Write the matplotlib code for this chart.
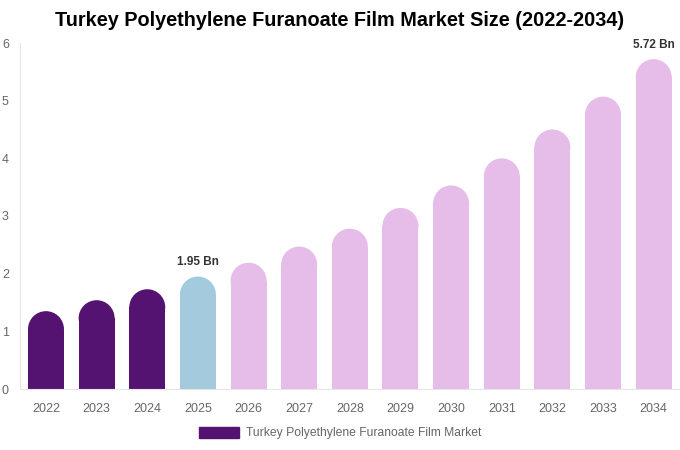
import matplotlib.pyplot as plt
from matplotlib.patches import Ellipse, Patch

plt.rcParams['font.family'] = ['Liberation Sans', 'DejaVu Sans']

years = ['2022', '2023', '2024', '2025', '2026', '2027', '2028',
         '2029', '2030', '2031', '2032', '2033', '2034']
values = [1.35, 1.54, 1.73, 1.95, 2.19, 2.47, 2.78, 3.14, 3.53, 4.0, 4.5, 5.07, 5.72]
colors = ['#541271'] * 3 + ['#a4cade'] + ['#e6bce8'] * 9
labels = {3: '1.95 Bn', 12: '5.72 Bn'}

fig = plt.figure(figsize=(6.8, 4.5), dpi=100)
ax = fig.add_axes([20 / 680, 61 / 450, 659 / 680, 346 / 450])
ax.set_xlim(-0.513, 12.5)
ax.set_ylim(0, 6)

w = 0.71
# vertical radius of the rounded top, in data units (18 px at 57.7 px per unit)
ry = 18 / 57.7
for i, v in enumerate(values):
    ax.bar(i, v - ry, width=w, color=colors[i], linewidth=0)
    ax.add_patch(Ellipse((i, v - ry), w, 2 * ry, color=colors[i], linewidth=0))
    if i in labels:
        ax.text(i, v + 0.14, labels[i], ha='center', va='bottom',
                fontsize=8.5, fontweight='bold', color='#333333')

ax.set_xticks(range(len(years)))
ax.set_xticklabels(years)
ax.set_yticks(range(7))
ax.tick_params(axis='both', length=0, labelsize=9, labelcolor='#666666')
ax.tick_params(axis='y', pad=8)
ax.tick_params(axis='x', pad=10)
for s in ['top', 'right']:
    ax.spines[s].set_visible(False)
for s in ['left', 'bottom']:
    ax.spines[s].set_color('#e6e6e6')
    ax.spines[s].set_linewidth(0.8)

fig.suptitle('Turkey Polyethylene Furanoate Film Market Size (2022-2034)',
             x=0.5, y=1 - 21 / 450, va='center', fontsize=14.3, fontweight='bold')

fig.legend(handles=[Patch(color='#541271', label='Turkey Polyethylene Furanoate Film Market')],
           loc='center', bbox_to_anchor=(0.5, 1 - 433 / 450), frameon=False,
           fontsize=8.7, handlelength=3.3, handleheight=1.0, handletextpad=0.6,
           labelcolor='#666666')

fig.savefig('out.png', dpi=100)
